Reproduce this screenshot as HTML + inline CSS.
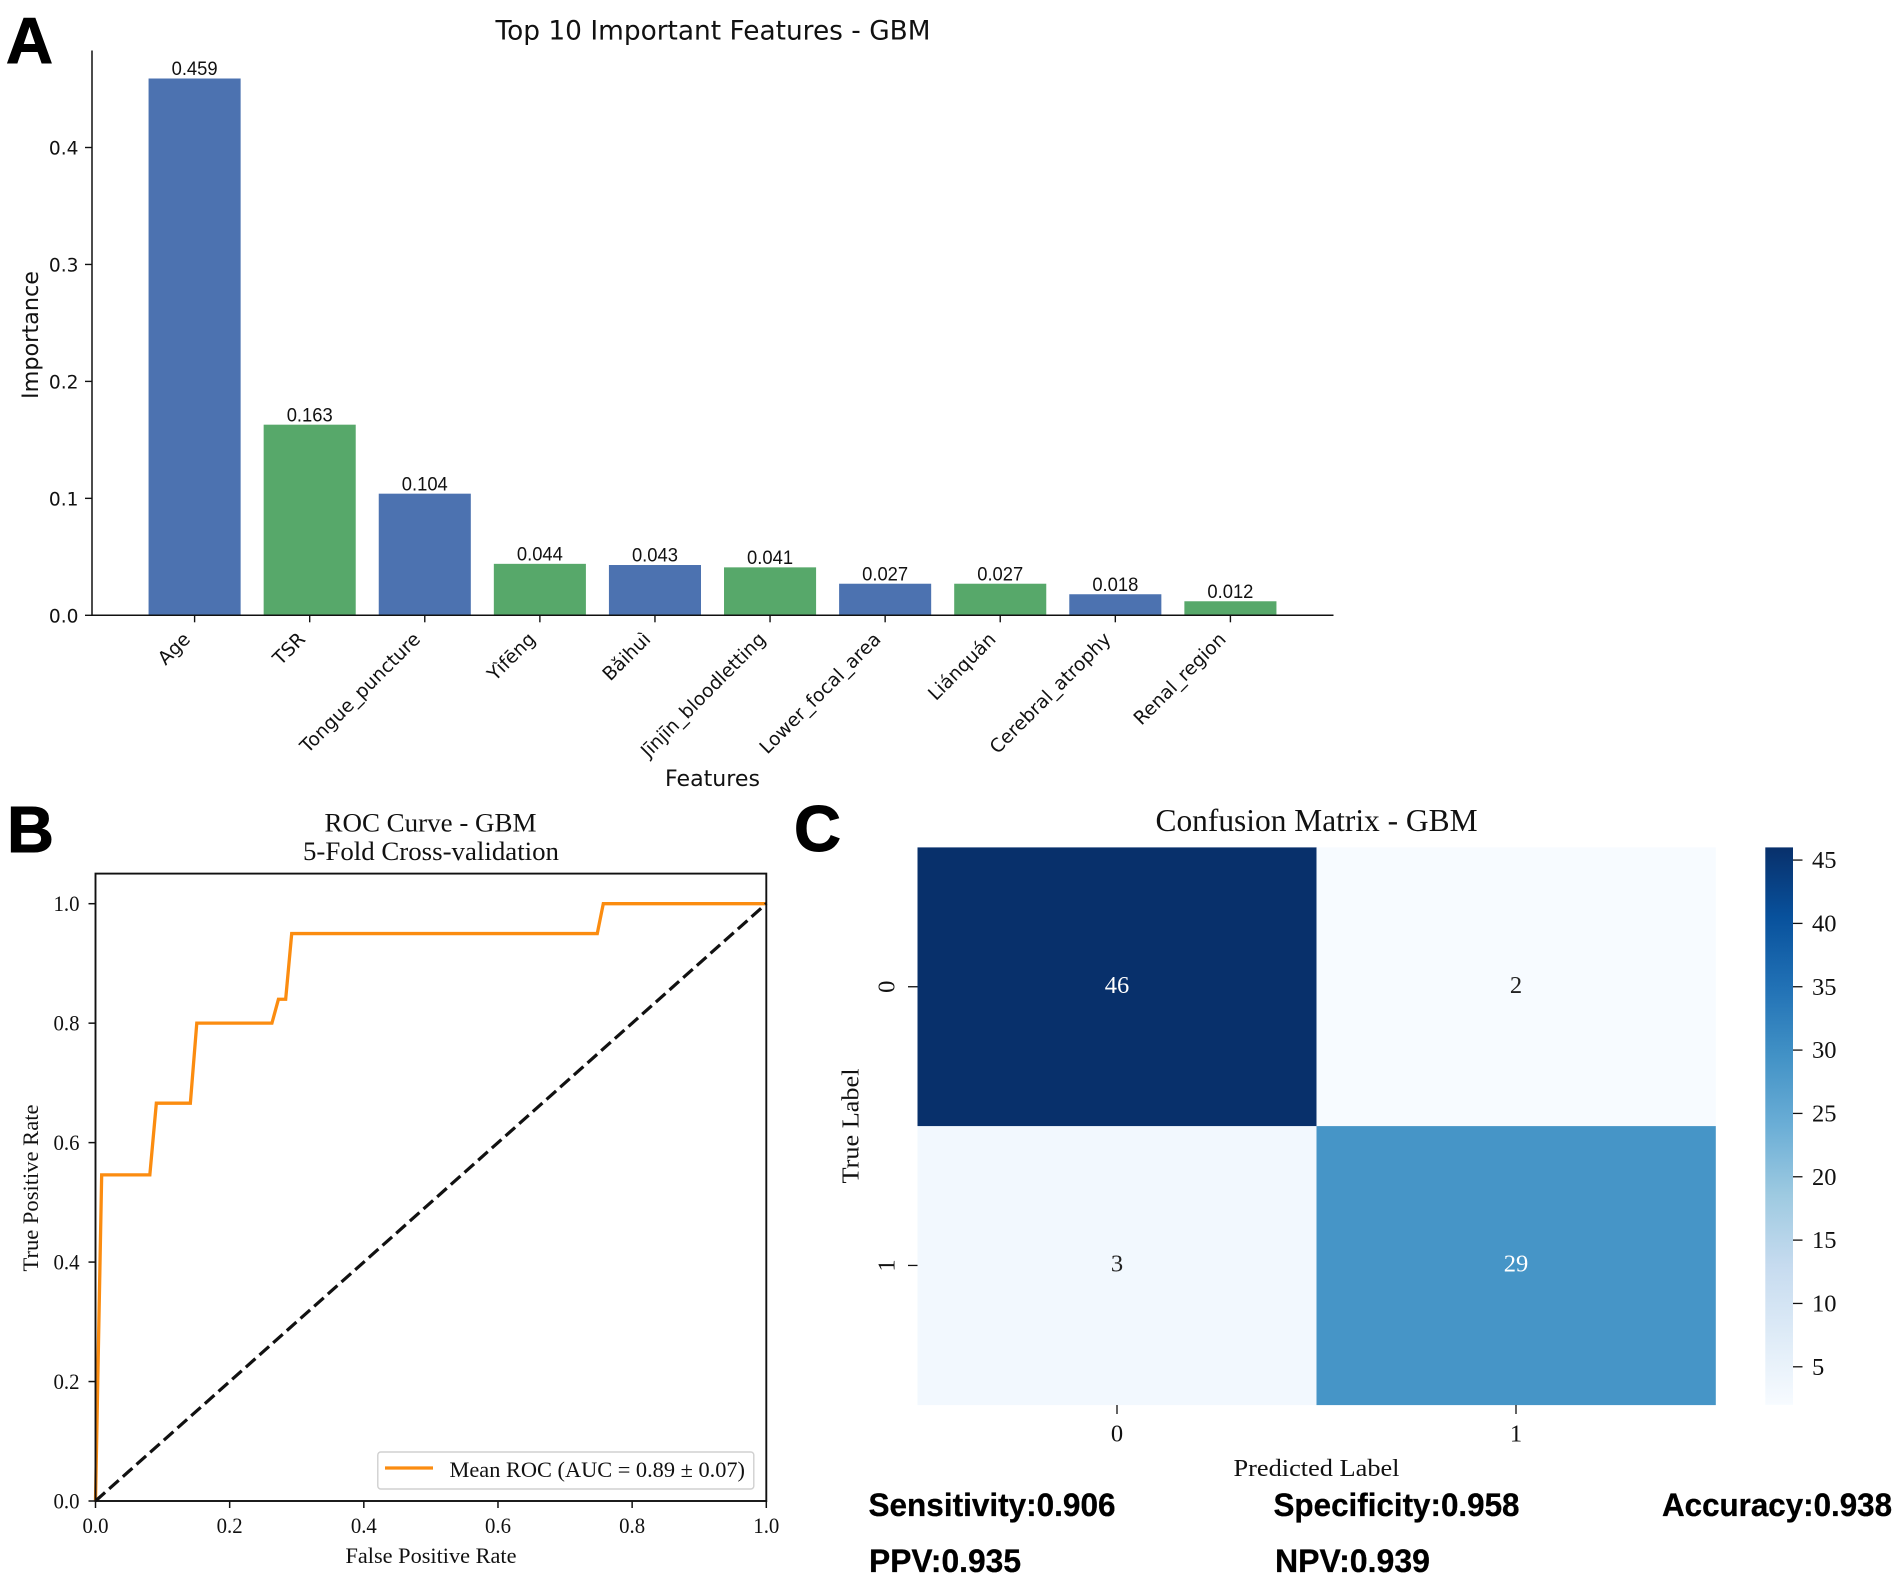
<!DOCTYPE html>
<html lang="en">
<head>
<meta charset="utf-8">
<title>GBM model figure</title>
<style>
  html, body { margin: 0; padding: 0; background: #fff; }
  svg { display: block; }
  .dv { font-family: "DejaVu Sans", sans-serif; fill: #111; }
  .ls { font-family: "Liberation Sans", sans-serif; fill: #111; }
  .se { font-family: "Liberation Serif", serif; fill: #111; }
  .letter { font-family: "Liberation Sans", sans-serif; font-weight: 700; font-size: 65px; fill: #000; stroke: #000; stroke-width: 1px; }
  .metric { font-family: "Liberation Sans", sans-serif; font-weight: 700; font-size: 32.5px; fill: #000; stroke: #000; stroke-width: 0.3px; }
</style>
</head>
<body>
<svg id="fig" xmlns="http://www.w3.org/2000/svg" width="1902" height="1589" viewBox="0 0 1902 1589">
  <defs>
    <linearGradient id="blues-grad" x1="0" y1="1" x2="0" y2="0"></linearGradient>
  </defs>
  <rect x="0" y="0" width="1902" height="1589" fill="#fff"/>

  <text class="letter" x="6" y="63">A</text>
  <text class="letter" x="7" y="852">B</text>
  <text class="letter" x="794" y="851">C</text>

  <g id="panelA">
    <text class="dv" x="495.5" y="39.5" font-size="27" textLength="435" lengthAdjust="spacingAndGlyphs">Top 10 Important Features - GBM</text>
    <text class="dv" transform="translate(38,335) rotate(-90)" text-anchor="middle" font-size="22" textLength="128" lengthAdjust="spacingAndGlyphs">Importance</text>
    <text class="dv" x="712.5" y="786" text-anchor="middle" font-size="22" textLength="95" lengthAdjust="spacingAndGlyphs">Features</text>
  </g>

  <g id="panelB">
    <text class="se" x="430.5" y="831.5" text-anchor="middle" font-size="26" textLength="212" lengthAdjust="spacingAndGlyphs">ROC Curve - GBM</text>
    <text class="se" x="431" y="860" text-anchor="middle" font-size="26" textLength="256" lengthAdjust="spacingAndGlyphs">5-Fold Cross-validation</text>
    <text class="se" x="431" y="1563" text-anchor="middle" font-size="22" textLength="171" lengthAdjust="spacingAndGlyphs">False Positive Rate</text>
    <text class="se" transform="translate(38,1188) rotate(-90)" text-anchor="middle" font-size="22" textLength="167" lengthAdjust="spacingAndGlyphs">True Positive Rate</text>
  </g>

  <g id="panelC">
    <text class="se" x="1316.5" y="831" text-anchor="middle" font-size="32" textLength="322" lengthAdjust="spacingAndGlyphs">Confusion Matrix - GBM</text>
    <text class="se" x="1316.5" y="1476" text-anchor="middle" font-size="24.5" textLength="166" lengthAdjust="spacingAndGlyphs">Predicted Label</text>
    <text class="se" transform="translate(858.5,1126) rotate(-90)" text-anchor="middle" font-size="24.5" textLength="115" lengthAdjust="spacingAndGlyphs">True Label</text>
  </g>

  <g>
    <text class="metric" x="868.5" y="1516" textLength="247" lengthAdjust="spacingAndGlyphs">Sensitivity:0.906</text>
    <text class="metric" x="1273.5" y="1516" textLength="246" lengthAdjust="spacingAndGlyphs">Specificity:0.958</text>
    <text class="metric" x="1662" y="1516" textLength="230" lengthAdjust="spacingAndGlyphs">Accuracy:0.938</text>
    <text class="metric" x="869" y="1572" textLength="152" lengthAdjust="spacingAndGlyphs">PPV:0.935</text>
    <text class="metric" x="1275" y="1572" textLength="155" lengthAdjust="spacingAndGlyphs">NPV:0.939</text>
  </g>
</svg>

<script>
// ---- Panel A data ----
const featureNames = ['Age', 'TSR', 'Tongue_puncture', 'Yìfēng', 'Bǎihuì', 'Jīnjīn_bloodletting', 'Lower_focal_area', 'Liánquán', 'Cerebral_atrophy', 'Renal_region'];
const featureImportance = [0.459, 0.163, 0.104, 0.044, 0.043, 0.041, 0.027, 0.027, 0.018, 0.012];
const importanceTicks = [0.0, 0.1, 0.2, 0.3, 0.4];

// ---- Panel B data ----
const rocFpr = [0, 0.0092, 0.081, 0.0907, 0.1414, 0.151, 0.263, 0.2727, 0.2835, 0.2925, 0.748, 0.757, 1];
const rocTpr = [0, 0.546, 0.546, 0.666, 0.666, 0.80, 0.80, 0.84, 0.84, 0.95, 0.95, 1, 1];
const chanceFpr = [0, 1];
const chanceTpr = [0, 1];
const rocTicks = [0.0, 0.2, 0.4, 0.6, 0.8, 1.0];
const rocLegendLabel = 'Mean ROC (AUC = 0.89 ± 0.07)';

// ---- Panel C data ----
const matrixLabels = ['0', '1'];
const matrixRow0 = [46, 2];
const matrixRow1 = [3, 29];
const colorbarTicks = [5, 10, 15, 20, 25, 30, 35, 40, 45];

const SVG_NS = 'http://www.w3.org/2000/svg';
const INK = '#111';

function make(tag, parent, attrs, content) {
  const node = document.createElementNS(SVG_NS, tag);
  for (const key in attrs) node.setAttribute(key, attrs[key]);
  if (content !== undefined) node.textContent = content;
  parent.appendChild(node);
  return node;
}

// ================= Panel A =================
(function () {
  const g = document.getElementById('panelA');
  const x = i => 194.6 + i * 115.09;
  const y = v => 615.3 - v * 1169.5;
  const barWidth = 92.07;
  const blue = '#4c72b0', green = '#57a86a';

  featureImportance.forEach(function (v, i) {
    const bar = make('rect', g, { x: x(i) - barWidth / 2, y: y(v), width: barWidth, height: y(0) - y(v), fill: i % 2 ? green : blue });
    
    

    const val = make('text', g, { class: 'ls', x: x(i), y: y(v) - 3.3, 'text-anchor': 'middle', 'font-size': 19, textLength: 46, lengthAdjust: 'spacingAndGlyphs' }, v.toFixed(3));
    
    

    const tick = make('line', g, { x1: x(i), x2: x(i), y1: y(0), y2: y(0) + 7, stroke: INK, 'stroke-width': 1.4 });
    
    

    const lab = make('text', g, { class: 'dv', 'text-anchor': 'end', 'font-size': 18.8, transform: 'translate(' + (x(i) - 3.3) + ',' + (y(0) + 25) + ') rotate(-45)' }, featureNames[i]);
    
    
  });

  importanceTicks.forEach(function (v) {
    const tick = make('line', g, { x1: 85, x2: 92, y1: y(v), y2: y(v), stroke: INK, 'stroke-width': 1.4 });
    
    

    const lab = make('text', g, { class: 'dv', x: 78.5, y: y(v) + 7, 'text-anchor': 'end', 'font-size': 18.6 }, v.toFixed(1));
    
    
  });

  const spineLeft = make('line', g, { x1: 92, x2: 92, y1: 50.5, y2: y(0) + 0.7, stroke: INK, 'stroke-width': 1.5 });
  
  

  const spineBottom = make('line', g, { x1: 91.3, x2: 1333.5, y1: y(0), y2: y(0), stroke: INK, 'stroke-width': 1.5 });
  
  
})();

// ================= Panel B =================
(function () {
  const g = document.getElementById('panelB');
  const x = v => 95.5 + v * 670.8;
  const y = v => 1501 - v * 597.3;
  const toPoints = (xs, ys) => xs.map((v, i) => x(v) + ',' + y(ys[i])).join(' ');

  const roc = make('polyline', g, { points: toPoints(rocFpr, rocTpr), fill: 'none', stroke: '#fb8c10', 'stroke-width': 3.3, 'stroke-linejoin': 'miter' });
  
  

  const chance = make('polyline', g, { points: toPoints(chanceFpr, chanceTpr), fill: 'none', stroke: '#111', 'stroke-width': 3.2, 'stroke-dasharray': '12.8 5.5' });
  
  

  const frame = make('rect', g, { x: x(0), y: 873.6, width: x(1) - x(0), height: y(0) - 873.6, fill: 'none', stroke: INK, 'stroke-width': 1.9 });
  
  

  rocTicks.forEach(function (v) {
    const tx = make('line', g, { x1: x(v), x2: x(v), y1: y(0), y2: y(0) + 7, stroke: INK, 'stroke-width': 1.5 });
    
    

    const lx = make('text', g, { class: 'se', x: x(v), y: 1533, 'text-anchor': 'middle', 'font-size': 22, textLength: 26, lengthAdjust: 'spacingAndGlyphs' }, v.toFixed(1));
    
    

    const ty = make('line', g, { x1: x(0) - 7, x2: x(0), y1: y(v), y2: y(v), stroke: INK, 'stroke-width': 1.5 });
    
    

    const ly = make('text', g, { class: 'se', x: 79.5, y: y(v) + 7.5, 'text-anchor': 'end', 'font-size': 22, textLength: 26, lengthAdjust: 'spacingAndGlyphs' }, v.toFixed(1));
    
    
  });

  const legend = make('g', g, {});
  
  

  const box = make('rect', legend, { x: 377.8, y: 1452, width: 376, height: 37, rx: 3, fill: '#fff', stroke: '#d0d0d0', 'stroke-width': 1.4 });
  
  

  const swatch = make('line', legend, { x1: 385, x2: 433, y1: 1468, y2: 1468, stroke: '#fb8c10', 'stroke-width': 3.3 });
  
  

  const text = make('text', legend, { class: 'se', x: 449.5, y: 1477, 'font-size': 22, textLength: 295.5, lengthAdjust: 'spacingAndGlyphs' }, rocLegendLabel);
  
  
})();

// ================= Panel C =================
(function () {
  const g = document.getElementById('panelC');
  const blues = ['#f7fbff', '#deebf7', '#c6dbef', '#9ecae1', '#6baed6', '#4292c6', '#2171b5', '#08519c', '#08306b'];
  const matrix = [matrixRow0, matrixRow1];
  const all = matrix[0].concat(matrix[1]);
  const vMin = Math.min.apply(null, all);
  const vMax = Math.max.apply(null, all);

  function hexToRgb(h) { return [1, 3, 5].map(i => parseInt(h.substr(i, 2), 16)); }
  function colorFor(v) {
    const t = (v - vMin) / (vMax - vMin) * (blues.length - 1);
    const i = Math.min(Math.floor(t), blues.length - 2);
    const a = hexToRgb(blues[i]), b = hexToRgb(blues[i + 1]), f = t - i;
    return 'rgb(' + a.map((c, k) => Math.round(c + (b[k] - c) * f)).join(',') + ')';
  }

  const left = 917.5, top = 847.4, cw = 399, ch = 278.7;
  const cx = i => left + cw * i;
  const cy = j => top + ch * j;

  matrix.forEach(function (row, j) {
    row.forEach(function (v, i) {
      const cell = make('rect', g, { x: cx(i), y: cy(j), width: cw + 0.3, height: ch + 0.3, fill: colorFor(v) });
      
      

      const t = (v - vMin) / (vMax - vMin);
      const ann = make('text', g, { class: 'se', x: cx(i) + cw / 2, y: cy(j) + ch / 2 + 6, 'text-anchor': 'middle', 'font-size': 24.5, style: 'fill:' + (t > 0.5 ? '#fff' : '#222') }, v);
      
      
    });
  });

  matrixLabels.forEach(function (label, i) {
    const px = cx(i) + cw / 2;
    const py = cy(i) + ch / 2;

    const tx = make('line', g, { x1: px, x2: px, y1: 1405, y2: 1414, stroke: INK, 'stroke-width': 1.3 });
    
    

    const lx = make('text', g, { class: 'se', x: px, y: 1441.5, 'text-anchor': 'middle', 'font-size': 24.5 }, label);
    
    

    const ty = make('line', g, { x1: left - 9.5, x2: left, y1: py, y2: py, stroke: INK, 'stroke-width': 1.3 });
    
    

    const ly = make('text', g, { class: 'se', 'text-anchor': 'middle', 'font-size': 24.5, transform: 'translate(894.5,' + py + ') rotate(-90)' }, label);
    
    
  });

  // colour bar
  const grad = document.getElementById('blues-grad');
  blues.forEach(function (c, i) {
    make('stop', grad, { offset: (i / (blues.length - 1) * 100) + '%', 'stop-color': c });
  });

  const cbTop = 847.4, cbBottom = 1404.8, cbLeft = 1765.3, cbRight = 1793;
  const cbY = v => cbBottom - (v - vMin) / (vMax - vMin) * (cbBottom - cbTop);

  const bar = make('rect', g, { x: cbLeft, y: cbTop, width: cbRight - cbLeft, height: cbBottom - cbTop, fill: 'url(#blues-grad)' });
  
  

  colorbarTicks.forEach(function (v) {
    const tick = make('line', g, { x1: cbRight, x2: cbRight + 9.5, y1: cbY(v), y2: cbY(v), stroke: INK, 'stroke-width': 1.3 });
    
    

    const lab = make('text', g, { class: 'se', x: 1812, y: cbY(v) + 8, 'font-size': 24.5 }, v);
    
    
  });
})();
</script>
</body>
</html>
